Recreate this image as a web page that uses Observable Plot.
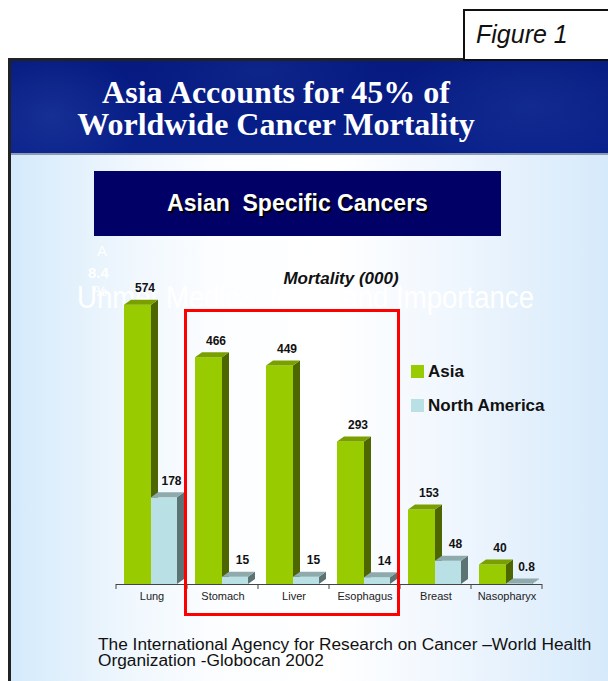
<!DOCTYPE html>
<html>
<head>
<meta charset="utf-8">
<script src="https://cdn.jsdelivr.net/npm/d3@7"></script>
<script src="https://cdn.jsdelivr.net/npm/@observablehq/plot@0.6"></script>
<style>
  html, body { margin: 0; padding: 0; background: #ffffff; }
  #page { position: relative; width: 608px; height: 681px; overflow: hidden; font-family: "Liberation Sans", Arial, sans-serif; }
  .abs { position: absolute; white-space: nowrap; }
  #figbox { left: 463px; top: 9px; width: 170px; height: 52px; border: 2px solid #111; box-sizing: border-box; background: #fff; }
  #figlabel { left: 476px; top: 22px; font-size: 25px; line-height: 25px; font-style: italic; color: #111; }
  #slide { left: 8px; top: 58px; width: 620px; height: 640px; border-left: 3px solid #222; border-top: 3px solid #222; box-sizing: border-box;
    background: linear-gradient(to right, #d4eafb 0%, #eef6fd 18%, #fbfdff 32%, #ffffff 52%, #f1f7fe 70%, #d3e8fa 100%); }
  #header { left: 11px; top: 61px; width: 600px; height: 92px; border-bottom: 2px solid #8d9bb3;
    background:
      radial-gradient(ellipse 90px 70px at 40px 55px, rgba(40,70,165,0.45), rgba(40,70,165,0) 100%),
      radial-gradient(ellipse 140px 70px at 520px 45px, rgba(35,65,160,0.4), rgba(35,65,160,0) 100%),
      radial-gradient(ellipse 120px 50px at 250px 10px, rgba(30,60,155,0.3), rgba(30,60,155,0) 100%),
      linear-gradient(#061a80, #081f8a); }
  #title { left: 0; top: 76px; width: 552px; text-align: center; font-family: "Liberation Serif", "Times New Roman", serif; font-weight: bold; font-size: 32px; line-height: 32px; color: #fff; }
  #subbox { left: 94px; top: 171px; width: 407px; height: 65px; background: #000066; }
  #subtitle { left: 94px; top: 192px; width: 407px; text-align: center; font-weight: bold; font-size: 23px; line-height: 23px; color: #fff; text-shadow: 2px 2px 0 #000; }
  .ghost { color: #ffffff; }
  #ghost1 { left: 77px; top: 282px; font-size: 31px; line-height: 31px; transform: scaleX(0.89); transform-origin: 0 0; }
  #ghostA { left: 94px; top: 243px; font-size: 15px; line-height: 15px; width: 16px; text-align: center; }
  #ghost84 { left: 88px; top: 265px; font-size: 15px; line-height: 15px; font-weight: bold; }
  #ghostP { left: 94px; top: 283px; font-size: 15px; line-height: 15px; }
  #chart { left: 0; top: 240px; }
  #mort { left: 241px; top: 270px; width: 200px; text-align: center; font-weight: bold; font-style: italic; font-size: 17px; line-height: 17px; color: #111; }
  .sw { width: 13px; height: 13px; }
  .lg { font-weight: bold; font-size: 17px; line-height: 17px; color: #111; }
  #caption { left: 98px; top: 636px; font-size: 17.3px; line-height: 16px; color: #111; }
</style>
</head>
<body>
<div id="page">
  <div id="slide" class="abs"></div>
  <div id="header" class="abs"></div>
  <div id="figbox" class="abs"></div>
  <div id="figlabel" class="abs">Figure 1</div>
  <div id="title" class="abs">Asia Accounts for 45% of<br>Worldwide Cancer Mortality</div>
  <div id="subbox" class="abs"></div>
  <div id="subtitle" class="abs">Asian&nbsp; Specific Cancers</div>
  <div id="ghostA" class="abs ghost">A</div>
  <div id="ghost84" class="abs ghost">8.4</div>
  <div id="ghostP" class="abs ghost">%</div>
  <div id="ghost1" class="abs ghost">Unmet Medical Need and Importance</div>
  <div id="mort" class="abs">Mortality (000)</div>
  <div id="chart" class="abs"></div>
  <div id="legend"></div>
  <div id="caption" class="abs">The International Agency for Research on Cancer –World Health<br>Organization -Globocan 2002</div>
</div>
<script>
// ---- data ----
const categories = ["Lung", "Stomach", "Liver", "Esophagus", "Breast", "Nasopharyx"];
const asia = [574, 466, 449, 293, 153, 40];
const northAmerica = [178, 15, 15, 14, 48, 0.8];
const seriesNames = ["Asia", "North America"];
const highlighted = ["Stomach", "Liver", "Esophagus"];

// ---- styles ----
const frontColor = {"Asia": "#99cc00", "North America": "#b9e0e4"};
const sideColor = {"Asia": "#4d6600", "North America": "#5c7373"};
const topColor = {"Asia": "#7aa000", "North America": "#8faaac"};
const inset = {"Asia": [8, 36], "North America": [35, 10]};
const depthX = 7, depthY = 5;

const rows = seriesNames.map((s, si) =>
  categories.map((c, i) => ({cat: c, series: s, value: (si === 0 ? asia : northAmerica)[i]})));

const fmt = v => String(v);

const plot = Plot.plot({
  width: 608,
  height: 441,
  marginLeft: 116,
  marginRight: 66,
  marginTop: 52,
  marginBottom: 97,
  style: {background: "transparent", fontFamily: "'Liberation Sans', Arial, sans-serif", overflow: "visible"},
  x: {domain: categories, padding: 0, label: null},
  y: {domain: [0, 600], axis: null},
  marks: [
    Plot.barY(rows[0], {x: "cat", y: "value", fill: frontColor["Asia"], insetLeft: inset["Asia"][0], insetRight: inset["Asia"][1]}),
    Plot.barY(rows[1], {x: "cat", y: "value", fill: frontColor["North America"], insetLeft: inset["North America"][0], insetRight: inset["North America"][1]}),
    Plot.ruleY([0], {stroke: "#444", strokeWidth: 1}),
    Plot.axisX({tickSize: 0, tickPadding: 8, fontSize: 11, fill: "#222", label: null}),
    Plot.text(rows[0], {x: "cat", y: "value", text: d => fmt(d.value), dx: -7, dy: -13, lineAnchor: "bottom", fontSize: 12, fontWeight: "bold", fill: "#111"}),
    Plot.text(rows[1], {x: "cat", y: "value", text: d => fmt(d.value), dx: 19.5, dy: -13, lineAnchor: "bottom", fontSize: 12, fontWeight: "bold", fill: "#111"})
  ]
});

// 3D faces, tick marks and the highlight box, placed with the plot's own scales
const sx = plot.scale("x"), sy = plot.scale("y");
const bw = typeof sx.bandwidth === "function" ? sx.bandwidth() : sx.bandwidth;
const y0 = sy.apply(0);
const svgSel = d3.select(plot.tagName.toLowerCase() === "svg" ? plot : plot.querySelector("svg"));
const barGroups = svgSel.selectAll('g[aria-label="bar"]').nodes();

seriesNames.forEach((s, si) => {
  const g = d3.create("svg:g").attr("aria-label", "bar depth " + s);
  rows[si].forEach(d => {
    const xa = sx.apply(d.cat) + inset[s][0];
    const xb = sx.apply(d.cat) + bw - inset[s][1];
    const yt = sy.apply(d.value);
    g.append("polygon")
      .attr("points", [[xb, y0], [xb, yt], [xb + depthX, yt - depthY], [xb + depthX, y0 - depthY]].join(" "))
      .attr("fill", sideColor[s]);
    g.append("polygon")
      .attr("points", [[xa, yt], [xb, yt], [xb + depthX, yt - depthY], [xa + depthX, yt - depthY]].join(" "))
      .attr("fill", topColor[s]);
  });
  const anchor = barGroups[si];
  if (anchor) anchor.after(g.node()); else svgSel.node().appendChild(g.node());
});

// tick marks at band boundaries
const tickG = svgSel.append("g").attr("aria-label", "boundary ticks");
[...categories.map(c => sx.apply(c)), sx.apply(categories[categories.length - 1]) + bw].forEach(x => {
  tickG.append("line").attr("x1", x).attr("x2", x).attr("y1", y0).attr("y2", y0 + 5)
    .attr("stroke", "#444").attr("stroke-width", 1);
});

// red highlight box round the Asian-specific cancers
const hx1 = sx.apply(highlighted[0]) - 1.5;
const hx2 = sx.apply(highlighted[highlighted.length - 1]) + bw - 1.5;
svgSel.append("rect")
  .attr("x", hx1).attr("y", 70.5)
  .attr("width", hx2 - hx1).attr("height", 304)
  .attr("fill", "none").attr("stroke", "#ff0000").attr("stroke-width", 3);

document.getElementById("chart").appendChild(plot);

// legend
const legend = document.getElementById("legend");
const legendTops = [365, 399];
seriesNames.forEach((s, i) => {
  const sw = document.createElement("div");
  sw.className = "abs sw";
  sw.style.left = "411px";
  sw.style.top = legendTops[i] + "px";
  sw.style.background = frontColor[s];
  legend.appendChild(sw);
  const t = document.createElement("div");
  t.className = "abs lg";
  t.style.left = "428px";
  t.style.top = (legendTops[i] - 2) + "px";
  t.textContent = s;
  legend.appendChild(t);
});
</script>
</body>
</html>
